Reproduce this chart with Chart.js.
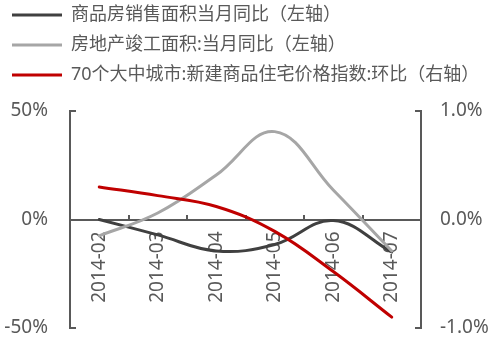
<!DOCTYPE html>
<html>
<head>
<meta charset="utf-8">
<script src="https://cdn.jsdelivr.net/npm/chart.js@4/dist/chart.umd.min.js"></script>
<style>
html,body{margin:0;padding:0;background:#fff;}
#wrap{width:491px;height:337px;position:relative;}
</style>
</head>
<body>
<div id="wrap"><canvas id="c" width="491" height="337"></canvas></div>
<script>
const categories = ['2014-02','2014-03','2014-04','2014-05','2014-06','2014-07'];
const salesAreaYoY = [0, -7.1, -14.5, -11.5, -0.5, -15];
const completedAreaYoY = [-7.5, 3.0, 20.5, 40.5, 13.6, -14.5];
const priceIndexMoM = [0.3, 0.22, 0.12, -0.11, -0.48, -0.9];
const seriesNames = ['商品房销售面积当月同比（左轴）','房地产竣工面积:当月同比（左轴）','70个大中城市:新建商品住宅价格指数:环比（右轴）'];
const leftTicks = [-50, 0, 50];
const rightTicks = [-1, 0, 1];

const FONT = '"Noto Sans", "Noto Sans CJK SC", sans-serif';
const AX = '#595959';

const shiftLegend = {
  id: 'shiftLegend',
  afterLayout(chart) {
    const lg = chart.legend;
    if (lg) { const h = lg.bottom - lg.top; lg.top = -6; lg.bottom = lg.top + h; }
  }
};

new Chart(document.getElementById('c'), {
  type: 'line',
  data: {
    labels: categories,
    datasets: [
      {label: seriesNames[0], data: salesAreaYoY, borderColor: '#404040', backgroundColor: '#404040', yAxisID: 'y', order: 3},
      {label: seriesNames[1], data: completedAreaYoY, borderColor: '#A6A6A6', backgroundColor: '#A6A6A6', yAxisID: 'y', order: 2},
      {label: seriesNames[2], data: priceIndexMoM, borderColor: '#C00000', backgroundColor: '#C00000', yAxisID: 'y1', order: 1}
    ]
  },
  plugins: [shiftLegend],
  options: {
    responsive: false,
    animation: false,
    devicePixelRatio: 1,
    layout: {padding: 0},
    elements: {
      line: {borderWidth: 3, tension: 0.4, fill: false, borderCapStyle: 'round'},
      point: {radius: 0, hoverRadius: 0}
    },
    plugins: {
      tooltip: {enabled: false},
      legend: {
        position: 'top',
        align: 'start',
        labels: {
          boxWidth: 50,
          boxHeight: 3,
          padding: 12,
          color: AX,
          font: {family: FONT, size: 18, lineHeight: 1},
          generateLabels: (chart) => chart.data.datasets.map((ds, i) => ({
            text: ds.label, fillStyle: ds.borderColor, strokeStyle: ds.borderColor,
            lineWidth: 0, hidden: false, datasetIndex: i, fontColor: AX
          }))
        }
      }
    },
    scales: {
      x: {
        type: 'category',
        offset: true,
        position: {y: 0},
        grid: {display: true, drawOnChartArea: false, drawTicks: true, tickLength: -6, offset: true, color: AX, lineWidth: 2},
        border: {display: true, color: AX, width: 2},
        ticks: {minRotation: 90, maxRotation: 90, padding: 18, color: AX, font: {family: FONT, size: 19}, autoSkip: false},
        afterFit: (s) => { s.height = 0; }
      },
      y: {
        position: 'left',
        min: -50, max: 50,
        afterBuildTicks: (s) => { s.ticks = leftTicks.map(v => ({value: v})); },
        grid: {display: true, drawOnChartArea: false, drawTicks: true, tickLength: -6, color: AX, lineWidth: 2},
        border: {display: true, color: AX, width: 2},
        ticks: {padding: 28, color: AX, font: {family: FONT, size: 19}, callback: (v) => v + '%'},
        afterFit: (s) => { s.width = 70; s.paddingTop = 111; s.paddingBottom = 9; }
      },
      y1: {
        position: 'right',
        min: -1, max: 1,
        afterBuildTicks: (s) => { s.ticks = rightTicks.map(v => ({value: v})); },
        grid: {display: true, drawOnChartArea: false, drawTicks: true, tickLength: -6, color: AX, lineWidth: 2},
        border: {display: true, color: AX, width: 2},
        ticks: {padding: 25, color: AX, font: {family: FONT, size: 19}, callback: (v) => Number(v).toFixed(1) + '%'},
        afterFit: (s) => { s.width = 70; s.paddingTop = 111; s.paddingBottom = 9; }
      }
    }
  }
});
</script>
</body>
</html>
